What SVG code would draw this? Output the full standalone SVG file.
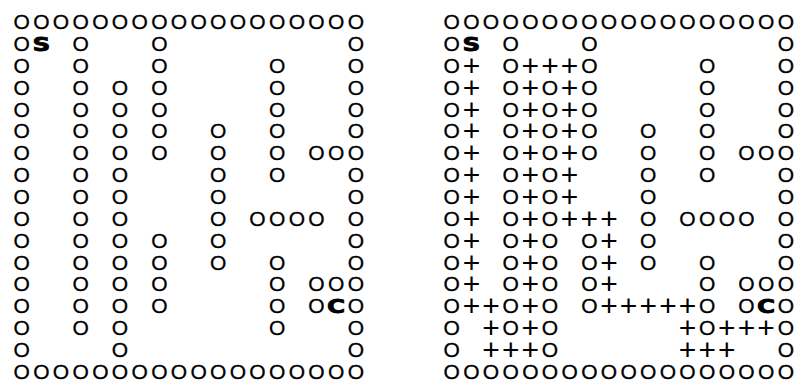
<svg xmlns="http://www.w3.org/2000/svg" xmlns:xlink="http://www.w3.org/1999/xlink" width="797" height="383" viewBox="0 0 797 383">
<style>
.o{font-family:"Liberation Sans",Arial,sans-serif;font-size:21px;fill:#000;stroke:#000;stroke-width:0.3;text-anchor:middle}
.p{font-family:"Liberation Sans",Arial,sans-serif;font-size:30px;fill:#000;text-anchor:middle}
.b{font-family:"DejaVu Sans",sans-serif;font-weight:bold;font-size:19px;fill:#000;stroke:#000;stroke-width:0.8;text-anchor:middle}
</style>
<defs>
<g id="maze">
<text class="o" y="29.2" x="21.7 41.4 61 80.7 100.3 120 139.6 159.3 178.9 198.6 218.2 237.9 257.5 277.2 296.8 316.5 336.1 355.8">OOOOOOOOOOOOOOOOOO</text>
<text class="o" y="51.05" x="21.7 80.7 159.3 355.8">OOOO</text>
<text class="o" y="72.9" x="21.7 80.7 159.3 277.2 355.8">OOOOO</text>
<text class="o" y="94.75" x="21.7 80.7 120 159.3 277.2 355.8">OOOOOO</text>
<text class="o" y="116.6" x="21.7 80.7 120 159.3 277.2 355.8">OOOOOO</text>
<text class="o" y="138.45" x="21.7 80.7 120 159.3 218.2 277.2 355.8">OOOOOOO</text>
<text class="o" y="160.3" x="21.7 80.7 120 159.3 218.2 277.2 316.5 336.1 355.8">OOOOOOOOO</text>
<text class="o" y="182.15" x="21.7 80.7 120 218.2 277.2 355.8">OOOOOO</text>
<text class="o" y="204" x="21.7 80.7 120 218.2 355.8">OOOOO</text>
<text class="o" y="225.85" x="21.7 80.7 120 218.2 257.5 277.2 296.8 316.5 355.8">OOOOOOOOO</text>
<text class="o" y="247.7" x="21.7 80.7 120 159.3 218.2 355.8">OOOOOO</text>
<text class="o" y="269.55" x="21.7 80.7 120 159.3 218.2 277.2 355.8">OOOOOOO</text>
<text class="o" y="291.4" x="21.7 80.7 120 159.3 277.2 316.5 336.1 355.8">OOOOOOOO</text>
<text class="o" y="313.25" x="21.7 80.7 120 159.3 277.2 316.5 355.8">OOOOOOO</text>
<text class="o" y="335.1" x="21.7 80.7 120 277.2 355.8">OOOOO</text>
<text class="o" y="356.95" x="21.7 120 355.8">OOO</text>
<text class="o" y="378.8" x="21.7 41.4 61 80.7 100.3 120 139.6 159.3 178.9 198.6 218.2 237.9 257.5 277.2 296.8 316.5 336.1 355.8">OOOOOOOOOOOOOOOOOO</text>
<text class="b" transform="translate(41.4,50.5) scale(1.3,1)">S</text>
<text class="b" transform="translate(336.1,312.7) scale(1.3,1)">C</text>
</g>
</defs>
<rect width="797" height="383" fill="#fff"/>
<g id="maze-left"><use xlink:href="#maze" href="#maze"/></g>
<g id="maze-right"><use xlink:href="#maze" href="#maze" transform="translate(430,0)"/></g>
<g id="path-marks">
<text class="p" y="75.9" x="471.4 530.3 550 569.6">++++</text>
<text class="p" y="97.75" x="471.4 530.3 569.6">+++</text>
<text class="p" y="119.6" x="471.4 530.3 569.6">+++</text>
<text class="p" y="141.45" x="471.4 530.3 569.6">+++</text>
<text class="p" y="163.3" x="471.4 530.3 569.6">+++</text>
<text class="p" y="185.15" x="471.4 530.3 569.6">+++</text>
<text class="p" y="207" x="471.4 530.3 569.6">+++</text>
<text class="p" y="228.85" x="471.4 530.3 569.6 589.3 608.9">+++++</text>
<text class="p" y="250.7" x="471.4 530.3 608.9">+++</text>
<text class="p" y="272.55" x="471.4 530.3 608.9">+++</text>
<text class="p" y="294.4" x="471.4 530.3 608.9">+++</text>
<text class="p" y="316.25" x="471.4 491 530.3 608.9 628.6 648.2 667.9 687.5">++++++++</text>
<text class="p" y="338.1" x="491 530.3 687.5 726.8 746.5 766.1">++++++</text>
<text class="p" y="359.95" x="491 510.7 530.3 687.5 707.2 726.8">++++++</text>
</g>
</svg>
